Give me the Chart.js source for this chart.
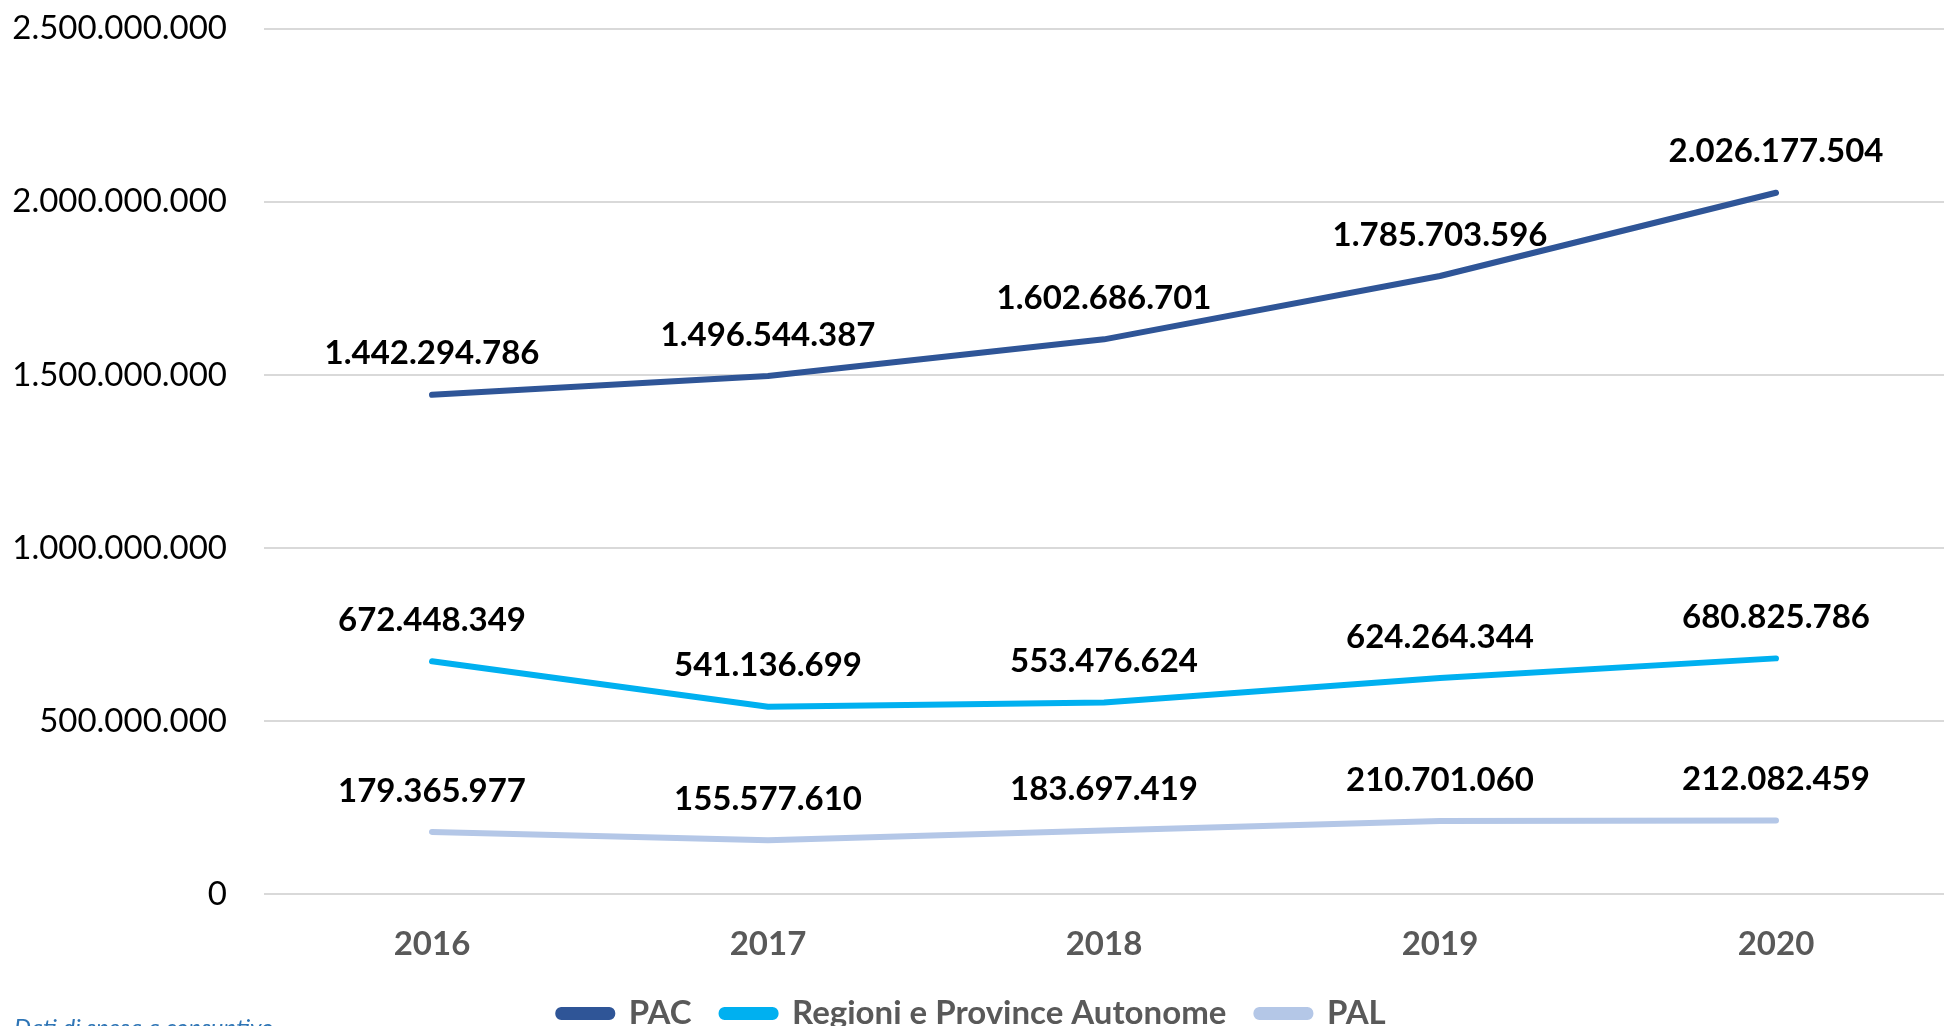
<!DOCTYPE html>
<html>
<head>
<meta charset="utf-8">
<script src="https://cdn.jsdelivr.net/npm/chart.js@4"></script>
<style>
  html, body { margin: 0; padding: 0; background: #fff; overflow: hidden; }
  #wrap { position: relative; width: 1944px; height: 1026px; overflow: hidden; }
  #chart { position: absolute; left: 0; top: -28px; }
  #note { position: absolute; left: 14px; top: 1012px; font: italic 24px Lato, sans-serif; color: #2E75B6; white-space: nowrap; }
</style>
</head>
<body>
<div id="wrap">
  <canvas id="chart" width="1944" height="1088"></canvas>
  <div id="note">Dati di spesa a consuntivo</div>
</div>
<script>
const years = ["2016", "2017", "2018", "2019", "2020"];
const pac = [1442294786, 1496544387, 1602686701, 1785703596, 2026177504];
const regioni = [672448349, 541136699, 553476624, 624264344, 680825786];
const pal = [179365977, 155577610, 183697419, 210701060, 212082459];
const seriesNames = ["PAC", "Regioni e Province Autonome", "PAL"];
const seriesColors = ["#2F5597", "#00B0F0", "#B4C7E7"];

function fmt(v) {
    return String(Math.round(v)).replace(/\B(?=(\d{3})+(?!\d))/g, ".");
}

// labels above each point
const pointLabels = {
    id: "pointLabels",
    afterDatasetsDraw(chart) {
        const ctx = chart.ctx;
        ctx.save();
        ctx.font = "bold 33px Lato, sans-serif";
        ctx.fillStyle = "#000";
        ctx.textAlign = "center";
        ctx.textBaseline = "middle";
        chart.data.datasets.forEach((ds, i) => {
            chart.getDatasetMeta(i).data.forEach((pt, j) => {
                ctx.fillText(fmt(ds.data[j]), pt.x, pt.y - 41);
            });
        });
        ctx.restore();
    }
};

const allSeries = [pac, regioni, pal];
const config = {
    type: "line",
    data: {
        labels: years,
        datasets: allSeries.map((d, i) => ({
            label: seriesNames[i],
            data: d,
            borderColor: seriesColors[i],
            backgroundColor: seriesColors[i],
            borderWidth: 6,
            borderCapStyle: "round",
            borderJoinStyle: "round",
            pointRadius: 0,
            tension: 0
        }))
    },
    options: {
        responsive: false,
        animation: false,
        layout: { padding: { top: 0, right: 0, left: 0, bottom: 20 } },
        plugins: {
            tooltip: { enabled: false },
            legend: {
                position: "bottom",
                labels: {
                    font: { family: "Lato, sans-serif", size: 33, weight: "bold" },
                    color: "#595959",
                    boxWidth: 54,
                    boxHeight: 7,
                    useBorderRadius: true,
                    borderRadius: 3,
                    padding: 30
                }
            }
        },
        scales: {
            x: {
                offset: true,
                grid: { display: false },
                border: { display: false },
                ticks: {
                    color: "#595959",
                    font: { family: "Lato, sans-serif", size: 33, weight: "bold" },
                    padding: 23
                },
                afterFit(scale) { scale.height = 73; }
            },
            y: {
                min: 0,
                max: 2500000000,
                grid: { color: "#D9D9D9", lineWidth: 2, drawTicks: false },
                border: { display: false },
                ticks: {
                    stepSize: 500000000,
                    color: "#000",
                    font: { family: "Lato, sans-serif", size: 33 },
                    padding: 37,
                    callback: v => fmt(v)
                },
                afterFit(scale) { scale.width = 264; }
            }
        }
    },
    plugins: [pointLabels]
};

new Chart(document.getElementById("chart"), config);
</script>
</body>
</html>
